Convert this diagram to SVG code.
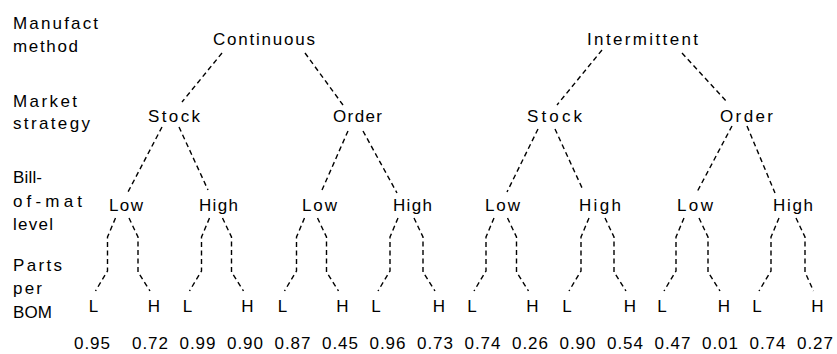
<svg xmlns="http://www.w3.org/2000/svg" width="837" height="354" viewBox="0 0 837 354">
<style>
text{font-family:"Liberation Sans","Noto Sans",Arial,sans-serif;font-size:17px;fill:#000}
.lf{text-anchor:middle}
.c{fill:none;stroke:#000;stroke-width:1.4;stroke-dasharray:5 3.5}
</style>
<rect width="837" height="354" fill="#fff"/>
<g id="row-labels">
<text x="13" y="29" textLength="85" lengthAdjust="spacing">Manufact</text>
<text x="13" y="52" textLength="65" lengthAdjust="spacing">method</text>
<text x="13" y="107" textLength="64" lengthAdjust="spacing">Market</text>
<text x="13" y="129" textLength="77" lengthAdjust="spacing">strategy</text>
<text x="13" y="183" textLength="29" lengthAdjust="spacing">Bill-</text>
<text x="13" y="207" textLength="69" lengthAdjust="spacing">of-mat</text>
<text x="13" y="230" textLength="40" lengthAdjust="spacing">level</text>
<text x="13" y="271" textLength="49" lengthAdjust="spacing">Parts</text>
<text x="13" y="294" textLength="29" lengthAdjust="spacing">per</text>
<text x="13" y="318" textLength="39" lengthAdjust="spacing">BOM</text>
</g>
<g id="connectors">
<path class="c" d="M222,53L182,102M305,53L343,105M602,50L557,105M682,53L727,102"/>
<path class="c" d="M162,127L128,192M179,127L208,190M348,131L322,190M363,131L397,193M538,129L507,192M555,129L583,190M732,126L697,192M747,126L775,193"/>
<path class="c" d="M115.5,218L107.5,237L107.5,271L95.5,291M129,218L138,237L138,272L150,291"/>
<path class="c" d="M209.5,218L201.5,237L201.5,271L189.5,291M222.5,218L231.5,237L231.5,272L243.5,291"/>
<path class="c" d="M304.5,218L296.5,237L296.5,271L284.5,291M317.5,218L326.5,237L326.5,272L338.5,291"/>
<path class="c" d="M398,218L390,237L390,271L378,291M414,218L423,237L423,272L435,291"/>
<path class="c" d="M494,218L486,237L486,271L474,291M507.5,218L516.5,237L516.5,272L528.5,291"/>
<path class="c" d="M589,218L581,237L581,271L569,291M605,218L614,237L614,272L626,291"/>
<path class="c" d="M684,218L676,237L676,271L664,291M699,218L708,237L708,272L720,291"/>
<path class="c" d="M779,218L771,237L771,271L759,291M796,218L805,237L805,272L813.5,291"/>
</g>
<g id="n-continuous"><text x="213" y="45" textLength="102" lengthAdjust="spacing">Continuous</text></g>
<g id="n-intermittent"><text x="587" y="45" textLength="111" lengthAdjust="spacing">Intermittent</text></g>
<g id="n-stock1"><text x="148" y="122" textLength="52" lengthAdjust="spacing">Stock</text></g>
<g id="n-order1"><text x="333" y="122" textLength="49" lengthAdjust="spacing">Order</text></g>
<g id="n-stock2"><text x="527" y="122" textLength="55" lengthAdjust="spacing">Stock</text></g>
<g id="n-order2"><text x="720" y="122" textLength="53" lengthAdjust="spacing">Order</text></g>
<g id="n-low1"><text x="109" y="211" textLength="34" lengthAdjust="spacing">Low</text></g>
<g id="n-high1"><text x="199" y="211" textLength="39" lengthAdjust="spacing">High</text></g>
<g id="n-low2"><text x="302" y="211" textLength="35" lengthAdjust="spacing">Low</text></g>
<g id="n-high2"><text x="393" y="211" textLength="39" lengthAdjust="spacing">High</text></g>
<g id="n-low3"><text x="485" y="211" textLength="35" lengthAdjust="spacing">Low</text></g>
<g id="n-high3"><text x="579" y="211" textLength="42" lengthAdjust="spacing">High</text></g>
<g id="n-low4"><text x="677" y="211" textLength="36" lengthAdjust="spacing">Low</text></g>
<g id="n-high4"><text x="773" y="211" textLength="40" lengthAdjust="spacing">High</text></g>
<g id="leaves">
<g id="leaf1"><text class="lf" x="93.5" y="312">L</text></g>
<g id="leaf2"><text class="lf" x="154" y="312">H</text></g>
<g id="leaf3"><text class="lf" x="187.5" y="312">L</text></g>
<g id="leaf4"><text class="lf" x="247.5" y="312">H</text></g>
<g id="leaf5"><text class="lf" x="282.5" y="312">L</text></g>
<g id="leaf6"><text class="lf" x="342.5" y="312">H</text></g>
<g id="leaf7"><text class="lf" x="376" y="312">L</text></g>
<g id="leaf8"><text class="lf" x="439" y="312">H</text></g>
<g id="leaf9"><text class="lf" x="472" y="312">L</text></g>
<g id="leaf10"><text class="lf" x="532.5" y="312">H</text></g>
<g id="leaf11"><text class="lf" x="567" y="312">L</text></g>
<g id="leaf12"><text class="lf" x="630" y="312">H</text></g>
<g id="leaf13"><text class="lf" x="662" y="312">L</text></g>
<g id="leaf14"><text class="lf" x="724" y="312">H</text></g>
<g id="leaf15"><text class="lf" x="757" y="312">L</text></g>
<g id="leaf16"><text class="lf" x="817.5" y="312">H</text></g>
</g>
<g id="values">
<text x="74" y="349" textLength="36" lengthAdjust="spacing">0.95</text>
<text x="132" y="349" textLength="36" lengthAdjust="spacing">0.72</text>
<text x="179.5" y="349" textLength="36" lengthAdjust="spacing">0.99</text>
<text x="227" y="349" textLength="36" lengthAdjust="spacing">0.90</text>
<text x="274.5" y="349" textLength="36" lengthAdjust="spacing">0.87</text>
<text x="322" y="349" textLength="36" lengthAdjust="spacing">0.45</text>
<text x="369.5" y="349" textLength="36" lengthAdjust="spacing">0.96</text>
<text x="417" y="349" textLength="36" lengthAdjust="spacing">0.73</text>
<text x="464.5" y="349" textLength="36" lengthAdjust="spacing">0.74</text>
<text x="512" y="349" textLength="36" lengthAdjust="spacing">0.26</text>
<text x="559.5" y="349" textLength="36" lengthAdjust="spacing">0.90</text>
<text x="607" y="349" textLength="36" lengthAdjust="spacing">0.54</text>
<text x="654.5" y="349" textLength="36" lengthAdjust="spacing">0.47</text>
<text x="702" y="349" textLength="36" lengthAdjust="spacing">0.01</text>
<text x="749.5" y="349" textLength="36" lengthAdjust="spacing">0.74</text>
<text x="797" y="349" textLength="36" lengthAdjust="spacing">0.27</text>
</g>
</svg>
